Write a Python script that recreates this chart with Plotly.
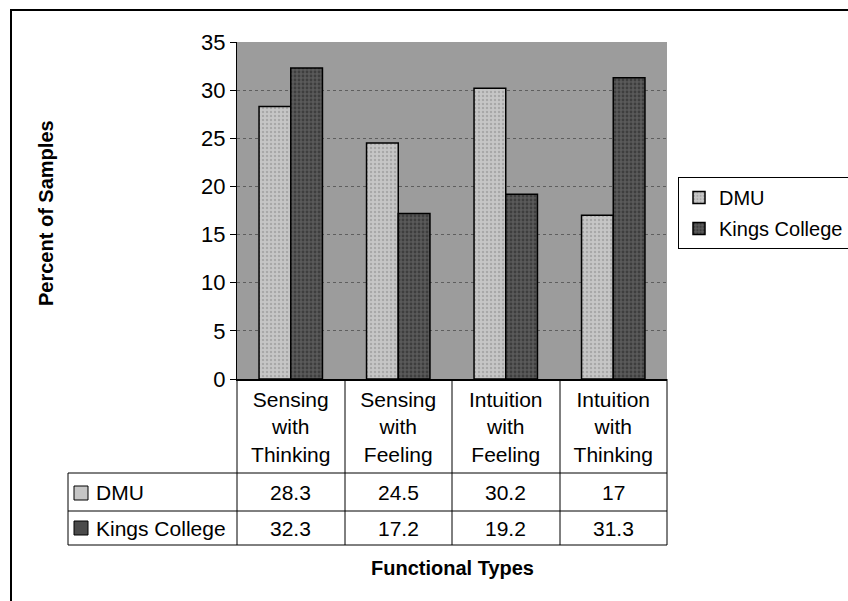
import plotly.graph_objects as go

categories = ["Sensing with Thinking", "Sensing with Feeling", "Intuition with Feeling", "Intuition with Thinking"]
category_labels = ["Sensing<br>with<br>Thinking", "Sensing<br>with<br>Feeling", "Intuition<br>with<br>Feeling", "Intuition<br>with<br>Thinking"]
dmu = [28.3, 24.5, 30.2, 17]
kings = [32.3, 17.2, 19.2, 31.3]
dmu_text = ["28.3", "24.5", "30.2", "17"]
kings_text = ["32.3", "17.2", "19.2", "31.3"]
series_names = ["DMU", "Kings College"]
y_ticks = [0, 5, 10, 15, 20, 25, 30, 35]

FIG_W, FIG_H = 848, 601
L, R, T, B = 237, 667, 42, 379
W, H = R - L, B - T

def px_x(p):
    return (p - L) / W

def px_y(p):
    return (B - p) / H

FONT = "Liberation Sans, Arial, sans-serif"
DMU_COLOR = "#c6c6c6"
KC_COLOR = "#4a4a4a"

fig = go.Figure()
fig.add_trace(go.Bar(
    x=categories, y=dmu, name=series_names[0], legendgroup="a",
    marker=dict(color=DMU_COLOR, line=dict(color="black", width=1.5),
                pattern=dict(shape=".", fgcolor="#8a8a8a", bgcolor=DMU_COLOR, size=4, solidity=0.3)),
))
fig.add_trace(go.Bar(
    x=categories, y=kings, name=series_names[1], legendgroup="b",
    marker=dict(color=KC_COLOR, line=dict(color="black", width=1.5),
                pattern=dict(shape=".", fgcolor="#222222", bgcolor="#5a5a5a", size=4, solidity=0.4)),
))

shapes = []
line = dict(color="black", width=1)
col_edges = [237, 345, 452, 560, 667]
for cx in col_edges:
    shapes.append(dict(type="line", xref="paper", yref="paper", x0=px_x(cx), x1=px_x(cx),
                       y0=px_y(379), y1=px_y(545), line=line))
shapes.append(dict(type="line", xref="paper", yref="paper", x0=px_x(68), x1=px_x(68),
                   y0=px_y(473), y1=px_y(545), line=line))
for ry in [473, 511, 545]:
    shapes.append(dict(type="line", xref="paper", yref="paper", x0=px_x(68), x1=px_x(667),
                       y0=px_y(ry), y1=px_y(ry), line=line))
for (y0, col) in [(486, DMU_COLOR), (521, KC_COLOR)]:
    shapes.append(dict(type="rect", xref="paper", yref="paper", x0=px_x(74), x1=px_x(88),
                       y0=px_y(y0), y1=px_y(y0 + 14), fillcolor=col, line=dict(color="black", width=1)))
shapes.append(dict(type="rect", xref="paper", yref="paper", x0=px_x(11), x1=px_x(900),
                   y0=px_y(650), y1=px_y(10), line=dict(color="black", width=2), layer="below"))

annotations = []
tf = dict(size=21, color="black", family=FONT)
for i, c in enumerate(categories):
    annotations.append(dict(x=c, xref="x", y=px_y(493), yref="paper", text=dmu_text[i],
                            xanchor="center", yanchor="middle", showarrow=False, font=tf))
    annotations.append(dict(x=c, xref="x", y=px_y(528), yref="paper", text=kings_text[i],
                            xanchor="center", yanchor="middle", showarrow=False, font=tf))
annotations.append(dict(x=px_x(94), xref="paper", y=px_y(493), yref="paper", text=series_names[0],
                        xanchor="left", yanchor="middle", showarrow=False, font=tf))
annotations.append(dict(x=px_x(94), xref="paper", y=px_y(528), yref="paper", text=series_names[1],
                        xanchor="left", yanchor="middle", showarrow=False, font=tf))
annotations.append(dict(x=px_x(452), xref="paper", y=px_y(568), yref="paper", text="<b>Functional Types</b>",
                        xanchor="center", yanchor="middle", showarrow=False,
                        font=dict(size=20, color="black", family=FONT)))
annotations.append(dict(x=px_x(46), xref="paper", y=px_y(213), yref="paper", text="<b>Percent of Samples</b>",
                        xanchor="center", yanchor="middle", textangle=-90, showarrow=False,
                        font=dict(size=20, color="black", family=FONT)))

fig.update_layout(
    width=FIG_W, height=FIG_H,
    margin=dict(l=L, r=FIG_W - R, t=T, b=FIG_H - B, pad=0, autoexpand=False),
    paper_bgcolor="white", plot_bgcolor="#9c9c9c",
    barmode="group", bargap=0.41, bargroupgap=0,
    font=dict(family=FONT, size=21, color="black"),
    showlegend=True,
    legend=dict(x=px_x(678), y=px_y(177), xanchor="left", yanchor="top",
                bordercolor="black", borderwidth=1, bgcolor="white",
                font=dict(size=20, color="black", family=FONT), tracegroupgap=2),
    shapes=shapes, annotations=annotations,
)
fig.update_xaxes(
    categoryorder="array", categoryarray=categories,
    tickmode="array", tickvals=categories, ticktext=category_labels,
    ticks="", showline=True, linecolor="black", linewidth=1.5, showgrid=False,
    tickfont=dict(size=21, color="black", family=FONT), ticklabelstandoff=1,
    range=[-0.5, 3.5], automargin=False,
)
fig.update_yaxes(
    range=[0, 35], tickvals=y_ticks, ticks="outside", ticklen=6, tickcolor="black",
    showline=True, linecolor="black", linewidth=1, zeroline=False,
    showgrid=True, gridcolor="#5e5e5e", griddash="dot", gridwidth=1,
    tickfont=dict(size=22, color="black", family=FONT), automargin=False,
)
fig.write_html("out.html")
